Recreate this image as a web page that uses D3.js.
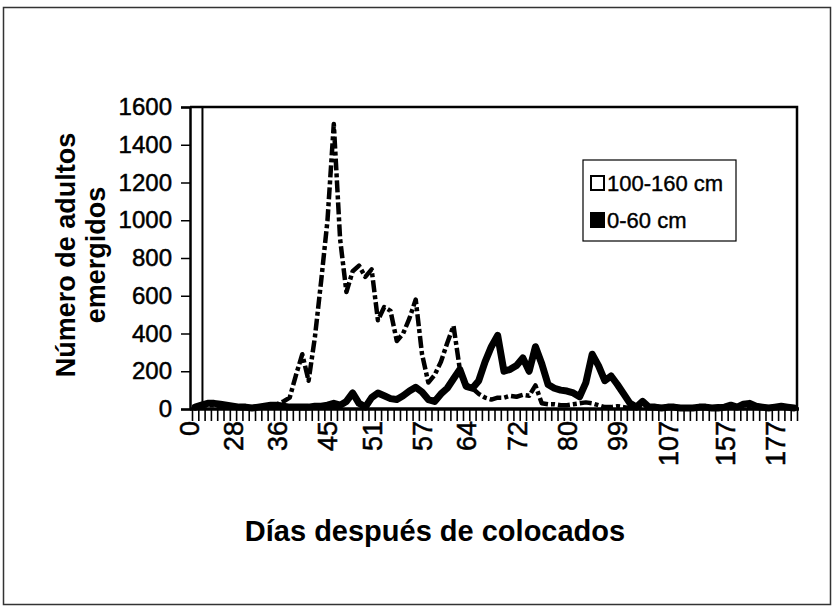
<!DOCTYPE html>
<html><head><meta charset="utf-8">
<script src="https://cdn.jsdelivr.net/npm/d3@7"></script>
<style>
body{margin:0;background:#fff}
svg{display:block}
text{font-family:"Liberation Sans",Arial,sans-serif;fill:#000}
</style>
</head><body>
<svg id="chart" width="834" height="609"></svg>
<script>
// ---- data ----
const tickLabels = ["0","28","36","45","51","57","64","72","80","99","107","157","177"];
const tickLabelIndex = [-1,6,13,21,28,36,43,51,59,67,75,84,92];
const yTicks = [0,200,400,600,800,1000,1200,1400,1600];
const seriesNames = ["100-160 cm","0-60 cm"];
// 100-160 cm (dashed)
const series100_160 = [
  5,15,20,20,15,15,10,10,5,10,15,15,20,25,40,
  60,180,290,150,380,680,1000,1510,900,620,730,760,700,740,470,
  540,520,360,400,480,580,290,140,180,250,350,440,210,130,110,
  80,60,50,60,60,70,65,75,70,125,30,25,25,20,20,
  25,30,35,30,20,10,10,15,10,5,5,10,5,5,5,
  10,5,5,5,10,5,5,10,15,10,5,10,5,10,5,
  5,10,5,10,5,5
];
// 0-60 cm (solid)
const series0_60 = [
  10,20,30,30,25,20,15,10,10,5,10,15,20,20,15,
  10,10,10,10,15,15,20,30,20,40,85,30,10,60,85,
  70,55,50,70,95,115,90,50,40,80,110,160,210,120,110,
  150,250,330,390,200,210,230,270,200,330,240,130,110,100,95,
  85,65,140,290,230,150,175,130,80,30,10,40,10,10,5,
  10,10,5,5,5,10,10,5,5,10,20,10,25,30,15,
  10,5,10,15,10,5
];
const verticalLineIndex = [1];

// ---- layout ----
const svg = d3.select("#chart");
const L = 190, R = 797, T = 107, B = 409;
const n = series0_60.length;
const xb = d3.scaleLinear().domain([0, n]).range([L + 2, R]);
const xc = i => xb(i + 0.5);
const y = d3.scaleLinear().domain([0, 1600]).range([B, T]);

// outer border
svg.append("rect").attr("x", 3.5).attr("y", 7.5).attr("width", 827).attr("height", 597)
  .attr("fill", "none").attr("stroke", "#333").attr("stroke-width", 1.5);

// plot frame (top and right)
svg.append("path").attr("d", `M${L},${T}H${R}V${B}`).attr("fill", "none")
  .attr("stroke", "#000").attr("stroke-width", 2.5);

// y axis
const yAxis = svg.append("g").attr("transform", `translate(${L},0)`)
  .call(d3.axisLeft(y).tickValues(yTicks).tickSize(9).tickPadding(9).tickFormat(d3.format("d")));
yAxis.select(".domain").attr("stroke-width", 2.5);
yAxis.selectAll(".tick line").attr("stroke-width", 1.5);
yAxis.selectAll(".tick text").attr("font-size", 24).attr("font-family", "Liberation Sans, Arial")
  .attr("fill", "#000").attr("stroke", "#000").attr("stroke-width", 0.5);

// vertical line near first categories
svg.selectAll(".vline").data(verticalLineIndex).enter().append("line")
  .attr("x1", d => xc(d) + 1).attr("x2", d => xc(d) + 1)
  .attr("y1", T).attr("y2", B).attr("stroke", "#000").attr("stroke-width", 2);

// x axis ticks (category boundaries)
const xAxis = svg.append("g").attr("transform", `translate(0,${B + 1})`)
  .call(d3.axisBottom(xb).tickValues(d3.range(n + 1)).tickSize(11).tickFormat(""));
xAxis.select(".domain").remove();
xAxis.selectAll(".tick line").attr("stroke-width", 1.6);

// series lines
const line = d3.line().x((d, i) => xc(i)).y(d => y(d)).curve(d3.curveLinear);
svg.append("path").datum(series0_60).attr("d", line).attr("fill", "none")
  .attr("stroke", "#000").attr("stroke-width", 7).attr("stroke-linejoin", "round").attr("stroke-linecap", "round");
svg.append("path").datum(series100_160).attr("d", line).attr("fill", "none")
  .attr("stroke", "#000").attr("stroke-width", 4.5).attr("stroke-dasharray", "12,3,4,3")
  .attr("stroke-linejoin", "round");

// x axis line
svg.append("line").attr("x1", L).attr("x2", R + 2).attr("y1", B).attr("y2", B)
  .attr("stroke", "#000").attr("stroke-width", 3.5);

// x tick labels (rotated)
svg.selectAll(".xl").data(tickLabels).enter().append("text")
  .attr("transform", (d, k) => `translate(${xc(tickLabelIndex[k]) + 10},${B + 12}) rotate(-90)`)
  .attr("text-anchor", "end").attr("font-size", 27)
  .attr("stroke", "#000").attr("stroke-width", 0.5).text(d => d);

// axis titles
const yt = svg.append("text").attr("transform", "translate(75,255) rotate(-90)")
  .attr("text-anchor", "middle").attr("font-weight", "bold").attr("font-size", 27);
yt.append("tspan").attr("x", 0).attr("dy", 0).text("Número de adultos");
yt.append("tspan").attr("x", 0).attr("dy", 30).text("emergidos");

svg.append("text").attr("x", 435).attr("y", 541).attr("text-anchor", "middle")
  .attr("font-weight", "bold").attr("font-size", 29).text("Días después de colocados");

// legend
const lg = svg.append("g");
lg.append("rect").attr("x", 583).attr("y", 160).attr("width", 153).attr("height", 81)
  .attr("fill", "#fff").attr("stroke", "#000").attr("stroke-width", 1.2);
const lgItems = lg.selectAll(".li").data(seriesNames).enter().append("g")
  .attr("transform", (d, i) => `translate(590,${176 + i * 37})`);
lgItems.append("rect").attr("x", 1).attr("y", 0).attr("width", 13).attr("height", 14)
  .attr("fill", (d, i) => i === 0 ? "#fff" : "#000").attr("stroke", "#000").attr("stroke-width", 2);
lgItems.append("text").attr("x", 17).attr("y", 15).attr("font-size", 22)
  .attr("stroke", "#000").attr("stroke-width", 0.4).text(d => d);
</script>
</body></html>
